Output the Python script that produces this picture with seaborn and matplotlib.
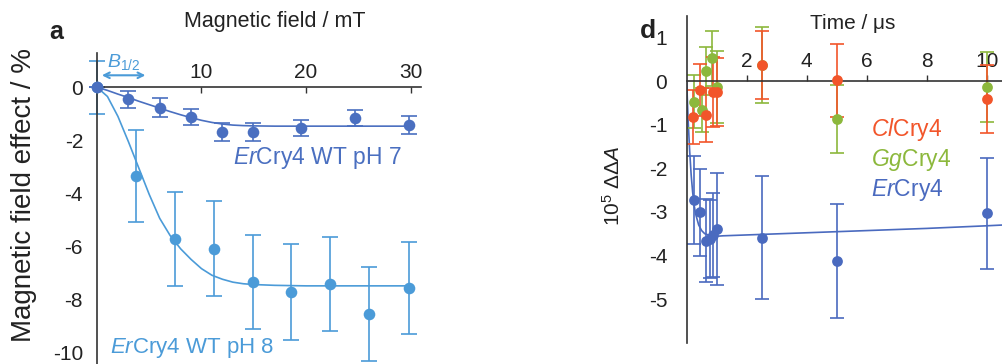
import seaborn as sns
import matplotlib.pyplot as plt

# panel a: magnetic field effect of ErCry4 at pH 7 and pH 8
field_ph7 = [0, 3.0, 6.0, 9.0, 12.0, 14.9, 19.5, 24.7, 29.9]
mfe_ph7 = [0, -0.45, -0.77, -1.13, -1.70, -1.70, -1.55, -1.17, -1.43]
err_ph7 = [0, 0.32, 0.35, 0.3, 0.33, 0.33, 0.3, 0.3, 0.33]

field_ph8 = [0, 3.7, 7.5, 11.2, 14.9, 18.6, 22.3, 26.0, 29.9]
mfe_ph8 = [0, -3.35, -5.74, -6.1, -7.35, -7.73, -7.43, -8.55, -7.58]
err_ph8 = [1.0, 1.75, 1.77, 1.8, 1.78, 1.8, 1.78, 1.78, 1.75]

fit_field = [0, 1, 2, 3, 4, 5, 6, 7, 8, 9, 10, 11, 12, 13, 14, 15, 17, 20, 25, 30]
fit_ph7 = [0, -0.12, -0.26, -0.39, -0.53, -0.66, -0.79, -0.92, -1.04, -1.15,
           -1.25, -1.33, -1.39, -1.43, -1.45, -1.46, -1.47, -1.47, -1.47, -1.47]
fit_ph8 = [0, -0.35, -1.1, -2.05, -3.05, -4.05, -4.95, -5.6, -6.1, -6.5,
           -6.85, -7.1, -7.25, -7.36, -7.42, -7.45, -7.48, -7.5, -7.5, -7.5]

# panel d1: transient absorption difference
t_er = [0.24, 0.44, 0.64, 0.77, 0.88, 1.02, 2.5, 5.0, 10.0]
dda_er = [-2.73, -3.01, -3.66, -3.62, -3.53, -3.40, -3.59, -4.13, -3.03]
err_er = [1.0, 1.0, 0.95, 0.9, 0.97, 1.28, 1.42, 1.31, 1.27]

t_cl = [0.22, 0.44, 0.66, 0.89, 1.02, 2.5, 5.0, 10.0]
dda_cl = [-0.82, -0.21, -0.78, -0.25, -0.25, 0.38, 0.02, -0.41]
err_cl = [0.62, 0.6, 0.62, 0.8, 0.78, 0.78, 0.84, 0.78]

t_gg = [0.24, 0.5, 0.66, 0.86, 1.0, 2.5, 5.0, 10.0]
dda_gg = [-0.47, -0.66, 0.24, 0.52, -0.14, 0.37, -0.86, -0.14]
err_gg = [0.6, 0.5, 0.55, 0.63, 0.83, 0.88, 0.78, 0.8]

t_fit = [0, 0.05, 0.1, 0.15, 0.2, 0.25, 0.3, 0.4, 0.5, 0.6, 0.8, 1.0, 1.2,
         2, 4, 6, 8, 10, 10.6]
er_fit = [0, -0.9, -1.6, -2.15, -2.55, -2.85, -3.05, -3.3, -3.43, -3.5, -3.55,
          -3.56, -3.55, -3.53, -3.48, -3.43, -3.38, -3.32, -3.30]

c_ph7 = '#4a6fc0'
c_ph8 = '#4b9bd8'
c_cl = '#f2552a'
c_gg = '#8cb83c'
c_er = '#4a6abf'
c_ax = '#333333'

sns.set_style('white')
plt.rcParams['font.family'] = ['Liberation Sans', 'DejaVu Sans']
plt.rcParams['axes.unicode_minus'] = False
plt.rcParams['mathtext.fontset'] = 'custom'
plt.rcParams['mathtext.rm'] = 'Liberation Sans'
plt.rcParams['mathtext.it'] = 'Liberation Sans:italic'
plt.rcParams['mathtext.bf'] = 'Liberation Sans:bold'

fig = plt.figure(figsize=(10.03, 3.64), dpi=100)

# ---------------- panel a
ax = fig.add_axes([0.0967, 0.0, 0.323, 0.855])
ax.set_xlim(0, 31)
ax.set_ylim(-10.45, 1.3)

sns.lineplot(x=fit_field, y=fit_ph8, ax=ax, color=c_ph8, lw=1.2)
sns.lineplot(x=fit_field, y=fit_ph7, ax=ax, color=c_ph7, lw=1.2)
for xs, ys, es, c in [(field_ph8, mfe_ph8, err_ph8, c_ph8),
                      (field_ph7, mfe_ph7, err_ph7, c_ph7)]:
    ax.errorbar(xs, ys, yerr=es, fmt='none', ecolor=c, elinewidth=1.2,
                capsize=6, capthick=1.2, clip_on=False)
    sns.scatterplot(x=xs, y=ys, ax=ax, color=c, s=70, edgecolor=c,
                    linewidth=0, clip_on=False, zorder=4)

for s in ['right', 'bottom']:
    ax.spines[s].set_visible(False)
ax.spines['top'].set_position(('data', 0))
ax.spines['left'].set_position(('data', 0))
for s in ['top', 'left']:
    ax.spines[s].set_color(c_ax)
    ax.spines[s].set_linewidth(1.2)
ax.xaxis.tick_top()
ax.set_xticks([10, 20, 30])
ax.set_yticks([0, -2, -4, -6, -8, -10])
ax.tick_params(axis='x', direction='in', length=4, width=1, colors=c_ax,
               labelsize=15, pad=4, labelcolor='#222222')
ax.tick_params(axis='y', direction='out', length=4, width=1, colors=c_ax,
               labelsize=15, pad=6, labelcolor='#222222')

ax.annotate('', xy=(0.2, 0.45), xytext=(4.9, 0.45),
            arrowprops=dict(arrowstyle='<->', color=c_ph8, lw=1.5))
ax.text(1.0, 0.95, r'$B_{1/2}$', color=c_ph8, fontsize=14, va='center')
ax.text(13.0, -2.68, r'$\it{Er}$Cry4 WT pH 7', color=c_ph7, fontsize=16.5,
        va='center')
ax.text(1.25, -9.85, r'$\it{Er}$Cry4 WT pH 8', color=c_ph8, fontsize=16,
        va='center')

fig.text(0.274, 0.94, 'Magnetic field / mT', fontsize=15.5, ha='center',
         va='center', color='#222222')
fig.text(0.056, 0.912, 'a', fontsize=18, fontweight='bold', ha='center',
         va='center', color='#222222')
fig.text(0.024, 0.464, 'Magnetic field effect / %', fontsize=20, rotation=90,
         ha='center', va='center', color='#222222')

# ---------------- panel d1
ax2 = fig.add_axes([0.6846, 0.0588, 0.3156, 0.898])
ax2.set_xlim(0, 10.55)
ax2.set_ylim(-6.0, 1.5)

sns.lineplot(x=t_fit, y=er_fit, ax=ax2, color=c_er, lw=1.2, sort=False)
for xs, ys, es, c in [(t_er, dda_er, err_er, c_er),
                      (t_gg, dda_gg, err_gg, c_gg),
                      (t_cl, dda_cl, err_cl, c_cl)]:
    ax2.errorbar(xs, ys, yerr=es, fmt='none', ecolor=c, elinewidth=1.2,
                 capsize=5, capthick=1.2)
    sns.scatterplot(x=xs, y=ys, ax=ax2, color=c, s=60, edgecolor=c,
                    linewidth=0, zorder=4)

for s in ['right', 'bottom']:
    ax2.spines[s].set_visible(False)
ax2.spines['top'].set_position(('data', 0))
for s in ['top', 'left']:
    ax2.spines[s].set_color(c_ax)
    ax2.spines[s].set_linewidth(1.2)
ax2.xaxis.tick_top()
ax2.set_xticks([2, 4, 6, 8, 10])
ax2.set_yticks([1, 0, -1, -2, -3, -4, -5])
ax2.tick_params(axis='x', direction='out', length=4, width=1, colors=c_ax,
                labelsize=15, pad=3, labelcolor='#222222')
ax2.tick_params(axis='y', direction='out', length=5, width=1, colors=c_ax,
                labelsize=15, pad=9, labelcolor='#222222')

ax2.text(6.15, -1.12, r'$\it{Cl}$Cry4', color=c_cl, fontsize=16.5, va='center')
ax2.text(6.15, -1.81, r'$\it{Gg}$Cry4', color=c_gg, fontsize=16.5, va='center')
ax2.text(6.15, -2.50, r'$\it{Er}$Cry4', color=c_er, fontsize=16.5, va='center')

fig.text(0.85, 0.935, r'Time / μs', fontsize=15, ha='center', va='center',
         color='#222222')
fig.text(0.646, 0.915, 'd', fontsize=19, fontweight='bold', ha='center',
         va='center', color='#222222')
fig.text(0.611, 0.49, r'$10^{5}\ \Delta\Delta \mathit{A}$', fontsize=15,
         rotation=90, ha='center', va='center', color='#222222')

fig.savefig('out.png', dpi=100)
